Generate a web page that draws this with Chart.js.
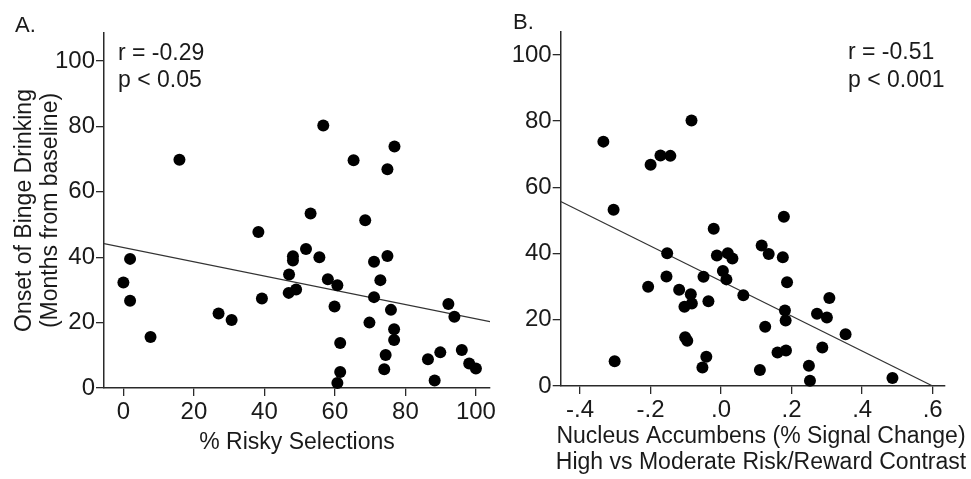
<!DOCTYPE html>
<html><head><meta charset="utf-8">
<script src="https://cdn.jsdelivr.net/npm/chart.js@4.4.1/dist/chart.umd.min.js"></script>
<style>
html,body{margin:0;padding:0;background:#fff;}
#wrap{position:relative;width:971px;height:479px;overflow:hidden;background:#fff;}
canvas{position:absolute;top:0;}
</style></head><body>
<div id="wrap">
<canvas id="cA" width="500" height="479" style="left:0px"></canvas>
<canvas id="cB" width="471" height="479" style="left:500px"></canvas>
</div>
<script>
// ---- Panel A data ----
const riskyPct = [0, 1.9, 1.9, 7.7, 15.9, 27.0, 30.7, 38.3, 39.3, 47.0, 46.9, 48.1, 48.1, 49.0, 51.8, 53.1, 55.6, 56.7, 58.0, 60.7, 59.9, 61.5, 61.5, 60.7, 65.3, 68.6, 71.1, 72.9, 71.1, 69.8, 74.9, 74.9, 76.9, 75.9, 76.8, 76.8, 74.4, 74.0, 86.4, 88.3, 89.9, 92.2, 93.9, 96.0, 98.1, 100];
const onsetA = [32.3, 39.5, 26.7, 15.6, 69.8, 22.8, 20.8, 47.7, 27.4, 34.7, 29.1, 40.3, 39.0, 30.1, 42.5, 53.4, 40.0, 80.3, 33.3, 31.4, 24.9, 13.8, 4.9, 1.5, 69.7, 51.3, 38.6, 33.0, 27.8, 20.0, 40.4, 66.9, 73.9, 23.9, 18.0, 14.7, 10.1, 5.7, 8.8, 2.3, 10.9, 25.7, 21.8, 11.6, 7.5, 6.0];
const fitAx = [-5.5, 104];
const fitAy = [44.2, 20.3];
const xTicksA = [0, 20, 40, 60, 80, 100];
const yTicks = [0, 20, 40, 60, 80, 100];

// ---- Panel B data ----
const naccSignal = [-0.334, -0.305, -0.302, -0.207, -0.200, -0.172, -0.144, -0.153, -0.155, -0.119, -0.104, -0.102, -0.096, -0.086, -0.083, -0.084, -0.050, -0.036, -0.042, -0.053, -0.021, -0.012, 0.005, 0.015, 0.019, 0.032, 0.063, 0.110, 0.115, 0.125, 0.135, 0.160, 0.175, 0.178, 0.184, 0.181, 0.183, 0.187, 0.249, 0.252, 0.272, 0.287, 0.300, 0.307, 0.353, 0.486];
const onsetB = [73.8, 53.2, 7.5, 30.0, 66.8, 69.6, 69.5, 40.1, 33.1, 29.1, 23.9, 14.7, 13.7, 27.7, 24.9, 80.2, 33.0, 25.6, 8.8, 5.6, 47.5, 39.4, 34.7, 32.2, 40.1, 38.5, 27.4, 4.8, 42.4, 17.9, 39.9, 10.1, 38.9, 51.1, 10.7, 22.8, 19.8, 31.3, 6.1, 1.6, 21.8, 11.6, 20.7, 26.6, 15.6, 2.4];
const fitBx = [-0.455, 0.6];
const fitBy = [55.7, 0];
const xTicksB = [-0.4, -0.2, 0, 0.2, 0.4, 0.6];
const xTickLabelsB = ['-.4', '-.2', '.0', '.2', '.4', '.6'];

const FONT = "'Liberation Sans', Arial, Helvetica, sans-serif";
const INK = '#1a1a1a';
const AXIS = '#2a2a2a';

const textPlugin = {
  id: 'panelText',
  afterDraw(chart, args, opts) {
    const ctx = chart.ctx;
    ctx.save();
    ctx.fillStyle = INK;
    (opts.items || []).forEach(it => {
      ctx.font = it.size + 'px ' + FONT;
      ctx.textAlign = it.align || 'left';
      ctx.textBaseline = it.baseline || 'alphabetic';
      ctx.fillText(it.text, it.x, it.y);
    });
    ctx.restore();
  }
};

function pts(xs, ys) { return xs.map((x, i) => ({x: x, y: ys[i]})); }

function makeChart(id, cfg) {
  return new Chart(document.getElementById(id), {
    type: 'scatter',
    data: {
      datasets: [
        {
          data: pts(cfg.xs, cfg.ys),
          pointRadius: 6, pointHoverRadius: 6,
          backgroundColor: '#000', borderColor: '#000', borderWidth: 0,
          clip: false, order: 1
        },
        {
          type: 'line',
          data: pts(cfg.fx, cfg.fy),
          borderColor: '#333', borderWidth: 1.2,
          pointRadius: 0, fill: false, tension: 0, order: 2
        }
      ]
    },
    options: {
      responsive: false,
      devicePixelRatio: 1,
      animation: false,
      events: [],
      layout: {padding: cfg.padding},
      plugins: {
        legend: {display: false},
        tooltip: {enabled: false},
        panelText: {items: cfg.texts}
      },
      scales: {
        x: {
          type: 'linear',
          min: cfg.xmin, max: cfg.xmax,
          afterBuildTicks: s => { s.ticks = cfg.xticks.map(v => ({value: v})); },
          afterFit: s => { s.height = cfg.xh; },
          grid: {drawOnChartArea: false, drawTicks: true, tickLength: 8, color: AXIS, lineWidth: 1.3},
          border: {display: true, color: AXIS, width: 1.5},
          ticks: {
            color: INK, padding: 2, maxRotation: 0, autoSkip: false,
            font: {family: FONT, size: 24},
            callback: cfg.xlabel
          },
          title: cfg.xtitle
        },
        y: {
          type: 'linear',
          min: 0, max: cfg.ymax,
          afterBuildTicks: s => { s.ticks = yTicks.map(v => ({value: v})); },
          afterFit: s => { s.width = cfg.yw; },
          grid: {drawOnChartArea: false, drawTicks: true, tickLength: 8, color: AXIS, lineWidth: 1.3},
          border: {display: true, color: AXIS, width: 1.5},
          ticks: {
            color: INK, padding: 1, autoSkip: false,
            font: {family: FONT, size: 24},
            callback: v => String(v)
          },
          title: cfg.ytitle
        }
      }
    },
    plugins: [textPlugin]
  });
}

makeChart('cA', {
  xs: riskyPct, ys: onsetA, fx: fitAx, fy: fitAy,
  xmin: -5.5, xmax: 104, ymax: 108.6, xticks: xTicksA,
  xlabel: v => String(v),
  padding: {left: 0, top: 33, right: 10, bottom: 0},
  yw: 104, xh: 91,
  xtitle: {display: true, text: '% Risky Selections', color: INK,
    font: {family: FONT, size: 23, lineHeight: 1.1}, padding: {top: 0, bottom: 24}},
  ytitle: {display: true, text: ['Onset of Binge Drinking', '(Months from baseline)'], color: INK,
    font: {family: FONT, size: 23, lineHeight: 1.1}, padding: {top: 12.4, bottom: 0}},
  texts: [
    {text: 'A.', x: 15, y: 32, size: 22},
    {text: 'r = -0.29', x: 118, y: 60, size: 23},
    {text: 'p < 0.05', x: 118, y: 87, size: 23}
  ]
});

makeChart('cB', {
  xs: naccSignal, ys: onsetB, fx: fitBx, fy: fitBy,
  xmin: -0.455, xmax: 0.635, ymax: 107, xticks: xTicksB,
  xlabel: v => { const i = xTicksB.findIndex(t => Math.abs(t - v) < 1e-9); return i >= 0 ? xTickLabelsB[i] : ''; },
  padding: {left: 0, top: 31.7, right: 26, bottom: 0},
  yw: 60.7, xh: 93,
  xtitle: {display: false},
  ytitle: {display: false},
  texts: [
    {text: 'B.', x: 13, y: 29, size: 22},
    {text: 'r = -0.51', x: 348, y: 59, size: 23},
    {text: 'p < 0.001', x: 348, y: 87, size: 23},
    {text: 'Nucleus Accumbens (% Signal Change)', x: 261, y: 437, size: 23, align: 'center', baseline: 'middle'},
    {text: 'High vs Moderate Risk/Reward Contrast', x: 261, y: 463, size: 23, align: 'center', baseline: 'middle'}
  ]
});
</script>
</body></html>
